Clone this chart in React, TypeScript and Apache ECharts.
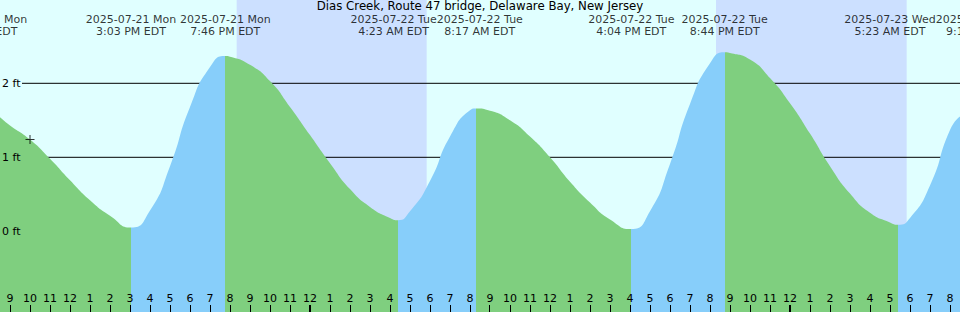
import React, { useEffect, useRef } from 'react';
import * as echarts from 'echarts';

const chartTitle = 'Dias Creek, Route 47 bridge, Delaware Bay, New Jersey';
const referenceDay = 22; // hours are counted from 2025-07-22 00:00 EDT

// visible time window (hours from reference midnight)
const viewStartHour = -15.5;
const viewEndHour = 32.5;

// tide curve (hours from 2025-07-22 00:00, feet)
const tideHours = [
  -15.5, -15, -14, -13, -12, -11, -10, -8.95,
  -8, -7, -6, -5, -4.233,
  -4, -3, -2, -1, 0, 1, 2, 3, 4, 4.383,
  5, 6, 7, 8, 8.283,
  9, 10, 11, 12, 13, 14, 15, 16.067,
  17, 18, 19, 20, 20.733,
  21, 22, 23, 24, 25, 26, 27, 28, 29, 29.383,
  30, 31, 32, 32.5,
];
const tideFeet = [
  1.54, 1.43, 1.24, 0.98, 0.69, 0.42, 0.21, 0.05,
  0.28, 0.88, 1.68, 2.22, 2.37,
  2.36, 2.25, 2.03, 1.68, 1.3, 0.92, 0.57, 0.33, 0.18, 0.15,
  0.27, 0.68, 1.28, 1.635, 1.66,
  1.63, 1.5, 1.28, 1.0, 0.67, 0.39, 0.16, 0.03,
  0.27, 0.91, 1.72, 2.27, 2.42,
  2.41, 2.32, 2.07, 1.73, 1.32, 0.88, 0.51, 0.25, 0.12, 0.09,
  0.18, 0.62, 1.37, 1.55,
];

// high / low tide labels
const eventDates = [
  '2025-07-21 Mon', '2025-07-21 Mon', '2025-07-21 Mon', '2025-07-22 Tue',
  '2025-07-22 Tue', '2025-07-22 Tue', '2025-07-22 Tue', '2025-07-23 Wed', '2025-07-23 Wed',
];
const eventTimes = [
  '7:36 AM EDT', '3:03 PM EDT', '7:46 PM EDT', '4:23 AM EDT',
  '8:17 AM EDT', '4:04 PM EDT', '8:44 PM EDT', '5:23 AM EDT', '9:11 AM EDT',
];

// night (sunset -> sunrise)
const nightStarts = ['2025-07-21 8:20 PM', '2025-07-22 8:18 PM'];
const nightEnds = ['2025-07-22 5:50 AM', '2025-07-23 5:50 AM'];

// axis ticks
const hourTicks = [
  -15, -14, -13, -12, -11, -10, -9, -8, -7, -6, -5, -4, -3, -2, -1,
  0, 1, 2, 3, 4, 5, 6, 7, 8, 9, 10, 11, 12, 13, 14, 15, 16, 17, 18, 19, 20, 21, 22, 23,
  24, 25, 26, 27, 28, 29, 30, 31, 32,
];
const midnightTicks = [0, 24];
const levelTicks = [0, 1, 2];

// current-time marker
const nowHour = -14;
const nowFeet = 1.24;

// styling / layout constants
const FONT = 'DejaVu Sans';
const DAY = '#E0FFFF';
const NIGHT = '#CCE0FF';
const FLOOD = '#87CEFA';
const EBB = '#7FCF7F';
const Y_MIN = -1.0905;
const Y_MAX = 3.1257;
const GRIDLINE_START_HOUR = -14.4;
const TICK_LEN = 7;

function toHours(date: string, time: string): number {
  const day = parseInt(date.slice(8, 10), 10);
  const m = time.match(/(\d+):(\d+)\s*(AM|PM)/) as RegExpMatchArray;
  let h = parseInt(m[1], 10) % 12;
  if (m[3] === 'PM') h += 12;
  return (day - referenceDay) * 24 + h + parseInt(m[2], 10) / 60;
}

function hourLabel(v: number): string {
  const h = ((Math.round(v) % 24) + 24) % 24;
  const h12 = h % 12 === 0 ? 12 : h % 12;
  return String(h12);
}

export default function App() {
  const ref = useRef<HTMLDivElement>(null);

  useEffect(() => {
    if (!ref.current) return;
    const chart = echarts.init(ref.current, undefined, { renderer: 'svg' });

    const eventHours = eventDates.map((d, i) => toHours(d, eventTimes[i]));
    const nightBands = nightStarts.map((s, i) => [
      toHours(s.slice(0, 10), s.slice(11)),
      toHours(nightEnds[i].slice(0, 10), nightEnds[i].slice(11)),
    ]);

    // find extremes of the tide curve to colour rising / falling water
    const extremes: number[] = [];
    for (let i = 1; i < tideFeet.length - 1; i++) {
      const a = tideFeet[i - 1], b = tideFeet[i], c = tideFeet[i + 1];
      if ((b > a && b >= c) || (b < a && b <= c)) extremes.push(i);
    }
    const pieces: any[] = [];
    let prevHour: number | null = null;
    let rising = tideFeet[1] > tideFeet[0];
    extremes.forEach((idx) => {
      const h = tideHours[idx];
      const piece: any = { lt: h, color: rising ? FLOOD : EBB };
      if (prevHour !== null) piece.gte = prevHour;
      pieces.push(piece);
      prevHour = h;
      rising = !rising;
    });
    pieces.push({ gte: prevHour, color: rising ? FLOOD : EBB });

    const tideData = tideHours.map((h, i) => [h, tideFeet[i]]);

    const option: any = {
      animation: false,
      backgroundColor: DAY,
      textStyle: { fontFamily: FONT },
      title: {
        text: chartTitle,
        left: 'center',
        top: 0,
        padding: 0,
        textStyle: { fontSize: 11.75, fontWeight: 'normal', color: '#000', fontFamily: FONT, lineHeight: 11 },
      },
      grid: { left: 0, right: 0, top: 0, bottom: 0, containLabel: false, outerBoundsMode: 'none' },
      xAxis: {
        type: 'value',
        min: viewStartHour,
        max: viewEndHour,
        position: 'bottom',
        z: 10,
        axisLine: { show: false, onZero: false },
        splitLine: { show: false },
        axisTick: { show: false },
        axisLabel: {
          show: true, inside: true, margin: 8, customValues: hourTicks,
          formatter: hourLabel, color: '#000', fontSize: 11, fontFamily: FONT,
        },
      },
      yAxis: {
        type: 'value',
        min: Y_MIN,
        max: Y_MAX,
        position: 'left',
        z: 10,
        axisLine: { show: false, onZero: false },
        axisTick: { show: false },
        splitLine: { show: false },
        axisLabel: {
          show: true, inside: true, margin: 2, customValues: levelTicks,
          formatter: (v: number) => `${v} ft`, color: '#000', fontSize: 11, fontFamily: FONT,
        },
      },
      visualMap: {
        type: 'piecewise',
        show: false,
        dimension: 0,
        seriesIndex: levelTicks.length,
        pieces,
      },
      series: [
        ...levelTicks.map((lvl, i) => ({
          type: 'line',
          z: 2,
          silent: true,
          symbol: 'none',
          data: [[GRIDLINE_START_HOUR, lvl], [viewEndHour, lvl]],
          lineStyle: { color: '#000', width: 1 },
          ...(i === 0
            ? {
                markArea: {
                  silent: true,
                  z: 1,
                  itemStyle: { color: NIGHT },
                  data: nightBands.map(([a, b]) => [{ xAxis: a }, { xAxis: b }]),
                },
              }
            : {}),
        })),
        {
          type: 'line',
          z: 3,
          silent: true,
          smooth: 0.6,
          symbol: 'none',
          data: tideData,
          lineStyle: { width: 0 },
          areaStyle: { opacity: 1, origin: 'start' },
        },
        {
          type: 'scatter',
          z: 6,
          silent: true,
          symbol: 'path://M4,0H5V4H9V5H5V9H4V5H0V4H4Z',
          symbolSize: 9,
          itemStyle: { color: '#000' },
          data: [[nowHour, nowFeet]],
        },
        {
          id: 'events',
          type: 'scatter',
          z: 20,
          silent: true,
          clip: false,
          symbolSize: 1,
          itemStyle: { color: 'transparent' },
          data: eventHours.map((h) => [h, Y_MAX]),
          label: {
            show: true,
            position: 'bottom',
            distance: 13,
            align: 'center',
            formatter: (p: any) => `${eventDates[p.dataIndex]}\n${eventTimes[p.dataIndex]}`,
            color: '#000',
            fontSize: 11,
            lineHeight: 12,
            fontFamily: FONT,
          },
        },
      ],
    };

    chart.setOption(option);

    // hour ticks along the bottom edge, placed through the x axis scale
    const bottom = chart.getHeight();
    const tickGraphics = hourTicks.map((h) => {
      const raw = chart.convertToPixel({ xAxisIndex: 0 }, h) as number;
      const isMidnight = midnightTicks.includes(h);
      const w = isMidnight ? 2 : 1;
      const left = isMidnight ? Math.round(raw) - 1 : Math.floor(raw);
      return {
        type: 'rect',
        silent: true,
        z: 100,
        shape: { x: left, y: bottom - TICK_LEN, width: w, height: TICK_LEN },
        style: { fill: '#000' },
      };
    });

    // push overlapping tide labels apart so that they just touch
    const px = eventHours.map((h) => chart.convertToPixel({ xAxisIndex: 0 }, h) as number);
    const pos = px.slice();
    const ctx = document.createElement('canvas').getContext('2d');
    if (ctx) {
      ctx.font = `11px "${FONT}"`;
      const widths = eventDates.map((d, i) =>
        Math.max(ctx.measureText(d).width, ctx.measureText(eventTimes[i]).width)
      );
      for (let iter = 0; iter < 50; iter++) {
        let moved = false;
        for (let i = 0; i < pos.length - 1; i++) {
          const overlap = pos[i] + widths[i] / 2 - (pos[i + 1] - widths[i + 1] / 2);
          if (overlap > 0.01) {
            pos[i] -= overlap / 2;
            pos[i + 1] += overlap / 2;
            moved = true;
          }
        }
        if (!moved) break;
      }
    }
    chart.setOption({
      graphic: tickGraphics,
      series: [
        {
          id: 'events',
          data: eventHours.map((h, i) => ({
            value: [h, Y_MAX],
            label: { offset: [pos[i] - px[i], 0] },
          })),
        },
      ],
    });

    return () => chart.dispose();
  }, []);

  return (
    <div
      ref={ref}
      style={{ position: 'fixed', left: 0, top: 0, width: 960, height: 312 }}
    />
  );
}
